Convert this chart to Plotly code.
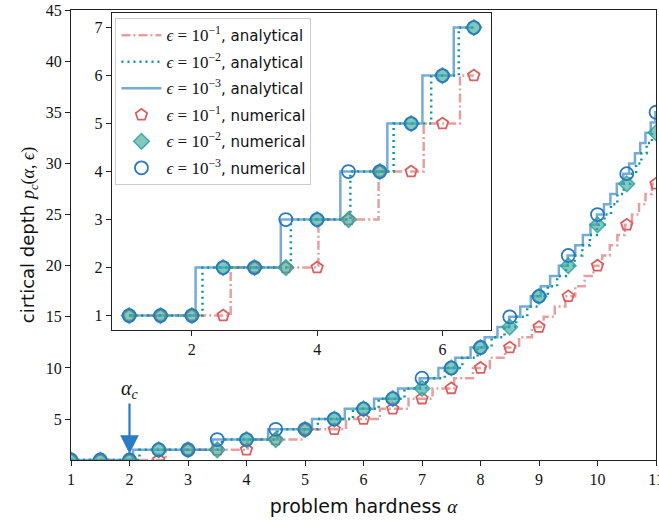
import plotly.graph_objects as go

# ---------------- data ----------------
alpha_num = [1, 1.5, 2, 2.5, 3, 3.5, 4, 4.5, 5, 5.5, 6, 6.5, 7, 7.5, 8, 8.5, 9, 9.5, 10, 10.5, 11]
p_num_e1 = [1, 1, 1, 1, 2, 2, 2, 3, 4, 4, 5, 6, 7, 8, 10, 12, 14, 17, 20, 24, 28]
p_num_e2 = [1, 1, 1, 2, 2, 2, 3, 3, 4, 5, 6, 7, 8, 10, 12, 14, 17, 20, 24, 28, 33]
p_num_e3 = [1, 1, 1, 2, 2, 3, 3, 4, 4, 5, 6, 7, 9, 10, 12, 15, 17, 21, 25, 29, 35]

# analytical curves: alpha at which p_c jumps to 2, 3, 4, ...
steps_e1 = [2.62, 4.02, 4.98, 5.70, 6.28, 6.77, 7.18, 7.55, 7.87, 8.16, 8.42, 8.66, 8.88,
            9.08, 9.27, 9.45, 9.62, 9.78, 9.93, 10.08, 10.21, 10.34, 10.47, 10.59, 10.71,
            10.82, 10.93]
steps_e2 = [2.17, 3.58, 4.53, 5.22, 5.82, 6.26, 6.70, 7.07, 7.39, 7.69, 7.95, 8.19, 8.41,
            8.61, 8.80, 8.98, 9.15, 9.31, 9.46, 9.61, 9.74, 9.87, 9.99, 10.12, 10.23,
            10.34, 10.45, 10.56, 10.66, 10.75, 10.84, 10.93]
steps_e3 = [2.06, 3.42, 4.37, 5.12, 5.68, 6.18, 6.59, 6.96, 7.28, 7.57, 7.83, 8.07, 8.29,
            8.49, 8.68, 8.86, 9.03, 9.19, 9.34, 9.49, 9.62, 9.75, 9.88, 9.99, 10.11,
            10.22, 10.33, 10.44, 10.54, 10.64, 10.73, 10.82, 10.91, 10.99]

alpha_min, alpha_max, alpha_inset_max = 1, 11, 6.5
x_ticks = [1, 2, 3, 4, 5, 6, 7, 8, 9, 10, 11]
y_ticks = [5, 10, 15, 20, 25, 30, 35, 40, 45]
x_ticks_inset = [2, 4, 6]
y_ticks_inset = [1, 2, 3, 4, 5, 6, 7]
alpha_c = 2

eps_labels = ["10<sup>−1</sup>", "10<sup>−2</sup>", "10<sup>−3</sup>"]

# ---------------- styles ----------------
C_RED_LINE = "rgba(214,100,100,0.62)"
C_RED_MK = "#d9605f"
C_TEAL_LINE = "#0f9696"
C_TEAL_FILL = "rgba(60,170,160,0.65)"
C_TEAL_EDGE = "rgba(40,160,150,0.8)"
C_BLUE_LINE = "rgba(60,135,200,0.7)"
C_BLUE_MK = "#2a78bd"
SERIF = "Liberation Serif"
SANS = "DejaVu Sans"


def step_xy(steps, amax):
    xs, ys = [alpha_min], [1]
    for i, a in enumerate(steps):
        if a <= amax:
            xs.append(a)
            ys.append(i + 2)
    xs.append(amax)
    ys.append(ys[-1])
    return xs, ys


def label(i, kind):
    return ('<span style="font-family:%s;font-size:17px"><i>ϵ</i> = %s</span>, %s' % (SERIF, eps_labels[i], kind))


fig = go.Figure()

LN_RED = dict(color=C_RED_LINE, width=2.5, dash="9px,3px,2px,3px")
LN_TEAL = dict(color=C_TEAL_LINE, width=2.5, dash="2px,4px")
LN_BLUE = dict(color=C_BLUE_LINE, width=2.5, dash="solid")
MK_RED = dict(symbol="pentagon-open", size=12, color=C_RED_MK, line=dict(width=1.8, color=C_RED_MK))
MK_TEAL = dict(symbol="diamond", size=12, color=C_TEAL_FILL, line=dict(width=1.5, color=C_TEAL_EDGE))
MK_BLUE = dict(symbol="circle-open", size=13, color=C_BLUE_MK, line=dict(width=1.8, color=C_BLUE_MK))

line_specs = [(steps_e1, LN_RED), (steps_e3, LN_BLUE), (steps_e2, LN_TEAL)]
mk_specs = [(p_num_e1, MK_RED), (p_num_e2, MK_TEAL), (p_num_e3, MK_BLUE)]

for axes, amax in [(("x", "y"), alpha_max), (("x2", "y2"), alpha_inset_max)]:
    for steps, ln in line_specs:
        xs, ys = step_xy(steps, amax)
        fig.add_trace(go.Scatter(x=xs, y=ys, mode="lines", line=dict(shape="hv", **ln),
                                 xaxis=axes[0], yaxis=axes[1], showlegend=False,
                                 hoverinfo="skip"))
    for pv, mk in mk_specs:
        xs = [a for a in alpha_num if a <= amax]
        ys = pv[:len(xs)]
        fig.add_trace(go.Scatter(x=xs, y=ys, mode="markers", marker=mk,
                                 xaxis=axes[0], yaxis=axes[1], showlegend=False))

# legend entries (in the order of the reference)
legend_entries = [
    (label(0, "analytical"), "lines", LN_RED, None),
    (label(1, "analytical"), "lines", LN_TEAL, None),
    (label(2, "analytical"), "lines", LN_BLUE, None),
    (label(0, "numerical"), "markers", None, MK_RED),
    (label(1, "numerical"), "markers", None, MK_TEAL),
    (label(2, "numerical"), "markers", None, MK_BLUE),
]
for k, (nm, mode, ln, mk) in enumerate(legend_entries):
    kw = dict(x=[None], y=[None], mode=mode, name=nm, legendgroup="g%d" % k,
              xaxis="x2", yaxis="y2", showlegend=True)
    if ln:
        kw["line"] = ln
    if mk:
        kw["marker"] = mk
    fig.add_trace(go.Scatter(**kw))

axis_common = dict(showline=True, linecolor="#222", linewidth=1.3, mirror=True,
                   ticks="outside", ticklen=5, tickwidth=1.2, tickcolor="#222",
                   showgrid=False, zeroline=False, ticklabeloverflow="allow",
                   tickfont=dict(family=SERIF, size=16, color="#111"))

fig.update_layout(
    width=659, height=526,
    margin=dict(l=71, r=3, t=10, b=66, autoexpand=False),
    paper_bgcolor="white", plot_bgcolor="white",
    xaxis=dict(range=[alpha_min, alpha_max], tickvals=x_ticks, domain=[0, 1],
               title=dict(text="problem hardness <i style='font-family:%s'>α</i>" % SERIF,
                          font=dict(family=SANS, size=19, color="#111"), standoff=12),
               **axis_common),
    yaxis=dict(range=[1, 45], tickvals=y_ticks, domain=[0, 1],
               title=dict(text="cirtical depth <span style='font-family:%s'><i>p<sub>c</sub></i>(<i>α</i>, <i>ϵ</i>)</span>" % SERIF,
                          font=dict(family=SANS, size=18, color="#111"), standoff=6),
               **axis_common),
    xaxis2=dict(range=[0.725, 6.775], tickvals=x_ticks_inset, domain=[0.070, 0.718],
                anchor="y2", **axis_common),
    yaxis2=dict(range=[0.7, 7.3], tickvals=y_ticks_inset, domain=[0.289, 0.993],
                anchor="x2", **axis_common),
    legend=dict(x=0.076, y=0.982, xanchor="left", yanchor="top",
                bgcolor="white", bordercolor="#cccccc", borderwidth=1,
                font=dict(family=SANS, size=15, color="#111"), itemwidth=40,
                traceorder="grouped", tracegroupgap=4),
    showlegend=True,
)

fig.add_annotation(x=alpha_c, y=1.6, ax=alpha_c, ay=7.9, xref="x", yref="y",
                   axref="x", ayref="y", showarrow=True, arrowhead=2, arrowsize=1.7,
                   arrowwidth=2.2, arrowcolor="#2a7bbf", standoff=0, startstandoff=0,
                   text="<i>α<sub>c</sub></i>",
                   font=dict(family=SERIF, size=20, color="#111"))

fig.write_html("out.html", post_script="document.body.style.margin='0';",
               config={"displayModeBar": False})
